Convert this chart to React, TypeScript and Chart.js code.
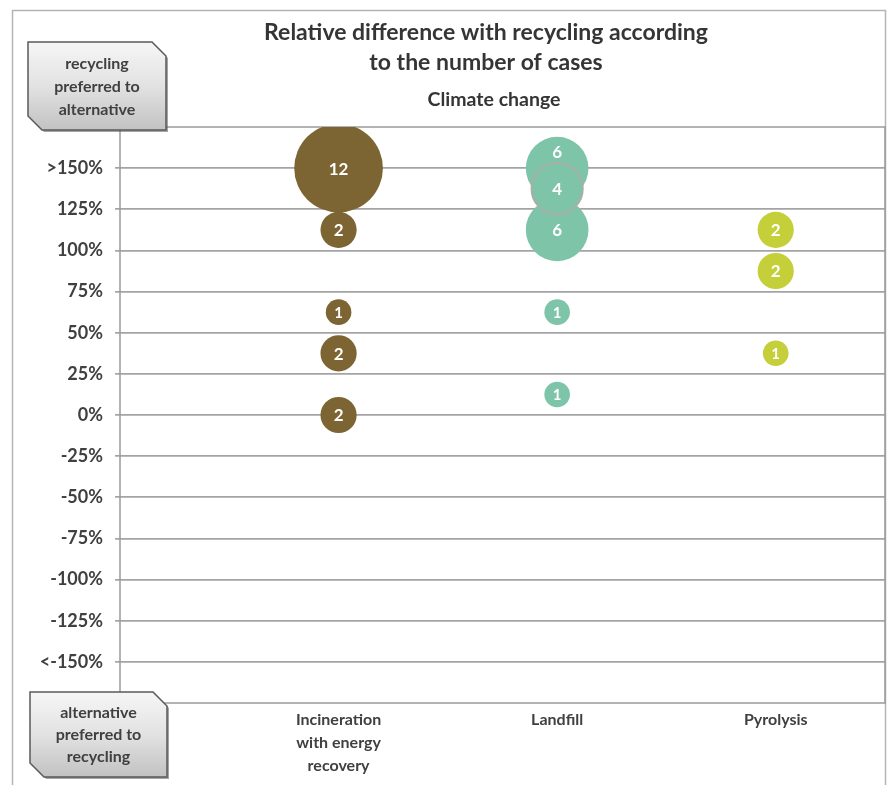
import React, { useEffect, useRef } from "react";
import { Chart, registerables } from "chart.js";

Chart.register(...registerables);

const categories: string[][] = [["Incineration", "with energy", "recovery"], ["Landfill"], ["Pyrolysis"]];
const categoryPositions = [1, 2, 3];

const yTickValues = [-150, -125, -100, -75, -50, -25, 0, 25, 50, 75, 100, 125, 150];
const yTickLabels = ["<-150%", "-125%", "-100%", "-75%", "-50%", "-25%", "0%", "25%", "50%", "75%", "100%", "125%", ">150%"];

const incinerationValues = [150, 112.5, 62.5, 37.5, 0];
const incinerationCounts = [12, 2, 1, 2, 2];
const landfillValues = [150, 112.5, 137.5, 62.5, 12.5];
const landfillCounts = [6, 6, 4, 1, 1];
const pyrolysisValues = [112.5, 87.5, 37.5];
const pyrolysisCounts = [2, 2, 1];

const titleLines = ["Relative difference with recycling according", "to the number of cases"];
const subtitle = "Climate change";
const topBoxLines = ["recycling", "preferred to", "alternative"];
const bottomBoxLines = ["alternative", "preferred to", "recycling"];

const FONT = "Lato, 'Open Sans', sans-serif";
const TEXT = "#404040";

const radiusFor = (n: number) => 12.8 * Math.sqrt(n);

function makePoints(xPos: number, values: number[], counts: number[]) {
  return values.map((v, i) => ({ x: xPos, y: v, r: radiusFor(counts[i]), n: counts[i] }));
}

function chamfer(ctx: CanvasRenderingContext2D, x0: number, y0: number, x1: number, y1: number, c: number) {
  ctx.beginPath();
  ctx.moveTo(x0, y0);
  ctx.lineTo(x1 - c, y0);
  ctx.lineTo(x1, y0 + c);
  ctx.lineTo(x1, y1);
  ctx.lineTo(x0 + c, y1);
  ctx.lineTo(x0, y1 - c);
  ctx.closePath();
}

function drawBox(ctx: CanvasRenderingContext2D, x0: number, y0: number, x1: number, y1: number, lines: string[], lineYs: number[]) {
  ctx.save();
  chamfer(ctx, x0 + 2, y0 + 2, x1 + 2, y1 + 2, 14);
  ctx.fillStyle = "rgba(90,90,90,0.55)";
  ctx.fill();
  chamfer(ctx, x0, y0, x1, y1, 14);
  const g = ctx.createLinearGradient(0, y0, 0, y1);
  g.addColorStop(0, "#f6f6f6");
  g.addColorStop(0.5, "#e2e2e2");
  g.addColorStop(1, "#c2c2c2");
  ctx.fillStyle = g;
  ctx.fill();
  ctx.lineWidth = 1.5;
  ctx.strokeStyle = "#5a5a5a";
  ctx.stroke();
  ctx.fillStyle = TEXT;
  ctx.font = `bold 16px ${FONT}`;
  ctx.textAlign = "center";
  ctx.textBaseline = "middle";
  const cx = (x0 + x1) / 2;
  lines.forEach((t, i) => ctx.fillText(t, cx, lineYs[i]));
  ctx.restore();
}

const decorPlugin = {
  id: "decor",
  beforeDraw(chart: any) {
    const ctx = chart.ctx as CanvasRenderingContext2D;
    ctx.save();
    ctx.fillStyle = "#ffffff";
    ctx.fillRect(0, 0, chart.width, chart.height);
    ctx.strokeStyle = "#b4b4b4";
    ctx.lineWidth = 1.5;
    ctx.strokeRect(12.5, 10.5, 873, 800);
    ctx.restore();
  },
  beforeDatasetsDraw(chart: any) {
    const ctx = chart.ctx as CanvasRenderingContext2D;
    const a = chart.chartArea;
    ctx.save();
    ctx.strokeStyle = "#9a9a9a";
    ctx.lineWidth = 1.5;
    ctx.strokeRect(a.left, a.top, a.right - a.left, a.bottom - a.top);
    ctx.restore();
  },
  afterDatasetsDraw(chart: any) {
    const ctx = chart.ctx as CanvasRenderingContext2D;
    ctx.save();
    ctx.fillStyle = "#ffffff";
    ctx.textAlign = "center";
    ctx.textBaseline = "middle";
    chart.data.datasets.forEach((ds: any, di: number) => {
      const meta = chart.getDatasetMeta(di);
      meta.data.forEach((el: any, i: number) => {
        const p = ds.data[i];
        const r = el.options.radius;
        let ly = el.y;
        for (let j = i + 1; j < meta.data.length; j++) {
          const o = meta.data[j];
          const orad = o.options.radius;
          if (Math.hypot(o.x - el.x, o.y - el.y) < orad) {
            ly = ((el.y - r) + (o.y - orad)) / 2 + 2;
          }
        }
        ctx.font = `bold ${r > 16 ? 17 : 15}px ${FONT}`;
        ctx.fillText(String(p.n), el.x, ly + 1);
      });
    });
    ctx.restore();
  },
  afterDraw(chart: any) {
    const ctx = chart.ctx as CanvasRenderingContext2D;
    ctx.save();
    ctx.fillStyle = "#353535";
    ctx.textAlign = "center";
    ctx.textBaseline = "middle";
    ctx.font = `bold 23px ${FONT}`;
    ctx.fillText(titleLines[0], 486, 33);
    ctx.fillText(titleLines[1], 486, 63);
    ctx.font = `bold 19.5px ${FONT}`;
    ctx.fillText(subtitle, 494, 100);
    ctx.restore();
    drawBox(ctx, 28, 42, 166, 130, topBoxLines, [64, 87, 110]);
    drawBox(ctx, 30, 692, 167, 777, bottomBoxLines, [713, 735, 757]);
  },
};

export default function App() {
  const ref = useRef<HTMLCanvasElement>(null);
  useEffect(() => {
    if (!ref.current) return;
    const chart = new Chart(ref.current, {
      type: "bubble",
      data: {
        datasets: [
          {
            label: "Incineration with energy recovery",
            data: makePoints(categoryPositions[0], incinerationValues, incinerationCounts) as any,
            backgroundColor: "#7c6533",
            borderWidth: 0,
          },
          {
            label: "Landfill",
            data: makePoints(categoryPositions[1], landfillValues, landfillCounts) as any,
            backgroundColor: "#7ec4a9",
            borderColor: (c: any) => (c.raw && c.raw.n === 4 ? "#a9aea6" : "rgba(0,0,0,0)"),
            borderWidth: (c: any) => (c.raw && c.raw.n === 4 ? 2 : 0),
          },
          {
            label: "Pyrolysis",
            data: makePoints(categoryPositions[2], pyrolysisValues, pyrolysisCounts) as any,
            backgroundColor: "#c4cf3a",
            borderWidth: 0,
          },
        ],
      },
      options: {
        responsive: false,
        animation: false,
        devicePixelRatio: 1,
        layout: { autoPadding: false, padding: { left: 0, right: 3, top: 127, bottom: 0 } },
        plugins: { legend: { display: false }, tooltip: { enabled: false }, title: { display: false } },
        scales: {
          x: {
            type: "linear",
            min: 0,
            max: 3.5,
            grid: { display: false, drawTicks: false },
            border: { display: false },
            afterBuildTicks: (s: any) => {
              s.ticks = categoryPositions.map((v) => ({ value: v }));
            },
            afterFit: (s: any) => {
              s.height = 82;
            },
            ticks: {
              autoSkip: false,
              maxRotation: 0,
              padding: 5,
              color: TEXT,
              font: { family: FONT, size: 16, weight: "bold", lineHeight: 1.45 },
              callback: (v: any) => categories[categoryPositions.indexOf(Number(v))] ?? "",
            },
          },
          y: {
            type: "linear",
            min: -175,
            max: 175,
            border: { display: false },
            grid: { color: "#a4a4a4", lineWidth: 1.7, tickLength: 5, drawTicks: true },
            afterBuildTicks: (s: any) => {
              s.ticks = yTickValues.map((v) => ({ value: v }));
            },
            afterFit: (s: any) => {
              s.width = 120;
            },
            ticks: {
              autoSkip: false,
              padding: 12,
              color: TEXT,
              font: { family: FONT, size: 18, weight: "bold" },
              callback: (v: any) => yTickLabels[yTickValues.indexOf(Number(v))] ?? "",
            },
          },
        },
      },
      plugins: [decorPlugin],
    });
    return () => chart.destroy();
  }, []);
  return (
    <div style={{ position: "absolute", left: 0, top: 0, width: 888, height: 785 }}>
      <canvas ref={ref} width={888} height={785} />
    </div>
  );
}
